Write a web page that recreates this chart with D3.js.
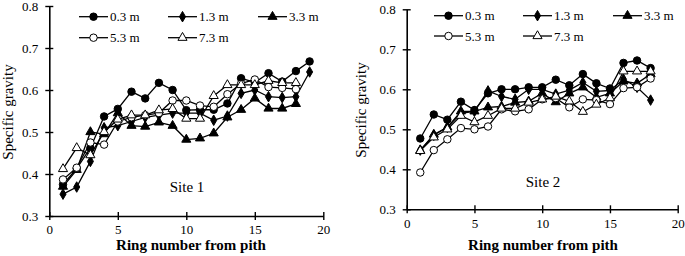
<!DOCTYPE html>
<html><head><meta charset="utf-8">
<script src="https://cdn.jsdelivr.net/npm/d3@7"></script>
<style>
body{margin:0;background:#fff}
svg text{font-family:"Liberation Serif","Times New Roman",serif;fill:#000}
</style>
</head><body>
<svg id="c" width="685" height="256"></svg>
<script>
// ---- data ----
const seriesNames = ["0.3 m","1.3 m","3.3 m","5.3 m","7.3 m"];
const rings = [1,2,3,4,5,6,7,8,9,10,11,12,13,14,15,16,17,18,19];
const xTicks = [0,5,10,15,20];
const yTicks = [0.3,0.4,0.5,0.6,0.7,0.8];

const site1_03 = [0.375,0.413,0.462,0.537,0.555,0.596,0.580,0.617,0.600,0.552,0.553,0.553,0.568,0.628,0.618,0.640,0.620,0.645,0.668];
const site1_13 = [0.352,0.369,0.430,0.510,0.515,0.525,0.535,0.540,0.545,0.545,0.545,0.528,0.538,0.592,0.600,0.584,0.582,0.584,0.643];
const site1_33 = [0.370,0.410,0.500,0.495,0.545,0.515,0.513,0.523,0.515,0.482,0.485,0.497,0.535,0.553,0.580,0.556,0.556,0.567];
const site1_53 = [0.387,0.415,0.475,0.470,0.525,0.535,0.540,0.545,0.575,0.575,0.563,0.560,0.590,0.615,0.625,0.607,0.605,0.602];
const site1_73 = [0.412,0.462,0.445,0.500,0.530,0.540,0.540,0.552,0.555,0.532,0.532,0.586,0.612,0.612,0.612,0.622,0.617,0.617];

const site2_03 = [0.477,0.537,0.524,0.569,0.548,0.590,0.600,0.600,0.605,0.605,0.624,0.610,0.638,0.615,0.602,0.666,0.672,0.653];
const site2_13 = [0.448,0.485,0.505,0.540,0.545,0.596,0.582,0.575,0.600,0.600,0.588,0.598,0.617,0.595,0.597,0.625,0.605,0.573];
const site2_33 = [0.447,0.487,0.505,0.545,0.545,0.555,0.557,0.567,0.570,0.590,0.568,0.590,0.605,0.580,0.590,0.620,0.615,0.638];
const site2_53 = [0.392,0.448,0.475,0.503,0.500,0.507,0.550,0.545,0.550,0.575,0.578,0.555,0.575,0.573,0.563,0.603,0.605,0.627];
const site2_73 = [0.446,0.480,0.500,0.534,0.518,0.534,0.552,0.552,0.567,0.575,0.582,0.570,0.544,0.562,0.578,0.645,0.645,0.645];

const site1 = [site1_03, site1_13, site1_33, site1_53, site1_73];
const site2 = [site2_03, site2_13, site2_33, site2_53, site2_73];

// ---- styles ----
const markers = [
  {type:d3.symbolCircle, size:44, fill:"#000"},
  {type:d3.symbolDiamond, size:32, fill:"#000"},
  {type:d3.symbolTriangle, size:36, fill:"#000"},
  {type:d3.symbolCircle, size:44, fill:"#fff"},
  {type:d3.symbolTriangle, size:36, fill:"#fff"}
];

const svg = d3.select("#c");
svg.append("rect").attr("width",685).attr("height",256).attr("fill","#fff");

function panel(cfg, data){
  const x = d3.scaleLinear().domain([0,20]).range([cfg.x0, cfg.x1]);
  const y = d3.scaleLinear().domain([0.3,0.8]).range([cfg.y0, cfg.y1]);
  const g = svg.append("g");

  // axes
  const ax = g.append("g").attr("transform",`translate(0,${cfg.y0})`)
    .call(d3.axisBottom(x).tickValues(xTicks).tickSize(4).tickSizeOuter(0).tickPadding(5).tickFormat(d3.format("d")));
  ax.selectAll(".tick line").attr("y1",-4);
  const ay = g.append("g").attr("transform",`translate(${cfg.x0},0)`)
    .call(d3.axisLeft(y).tickValues(yTicks).tickSize(4).tickSizeOuter(0).tickPadding(7).tickFormat(d3.format(".1f")));
  ay.selectAll(".tick line").attr("x1",4);
  g.selectAll(".domain").attr("stroke","#000").attr("stroke-width",1.6);
  g.selectAll(".tick line").attr("stroke","#000").attr("stroke-width",1.4);
  g.selectAll(".tick text").attr("font-size",13).attr("font-family","Liberation Serif, serif");

  // titles
  g.append("text").attr("x",cfg.xtX).attr("y",250).attr("text-anchor","middle")
    .attr("font-size",15).attr("font-weight","bold").text("Ring number from pith");
  g.append("text").attr("transform",`translate(${cfg.ytX},${cfg.ytY}) rotate(-90)`)
    .attr("text-anchor","middle").attr("font-size",15).text("Specific gravity");
  g.append("text").attr("x",cfg.siteX).attr("y",cfg.siteY).attr("text-anchor","middle")
    .attr("font-size",15).text(cfg.site);

  // series
  const line = d3.line().x((d,i)=>x(rings[i])).y(d=>y(d));
  data.forEach((vals,k)=>{
    g.append("path").datum(vals).attr("d",line).attr("fill","none")
      .attr("stroke","#000").attr("stroke-width",1.3);
  });
  data.forEach((vals,k)=>{
    const m = markers[k];
    g.selectAll(null).data(vals).enter().append("path")
      .attr("transform",(d,i)=>`translate(${x(rings[i])},${y(d)})`)
      .attr("d",d3.symbol().type(m.type).size(m.size))
      .attr("fill",m.fill).attr("stroke","#000").attr("stroke-width",1);
  });

  // legend
  seriesNames.forEach((name,k)=>{
    const row = k<3 ? 0 : 1, col = k<3 ? k : k-3;
    const lx = cfg.legCols[col], ly = cfg.legRows[row];
    g.append("line").attr("x1",lx).attr("x2",lx+29).attr("y1",ly).attr("y2",ly)
      .attr("stroke","#000").attr("stroke-width",1.3);
    const m = markers[k];
    g.append("path").attr("transform",`translate(${lx+14.5},${ly})`)
      .attr("d",d3.symbol().type(m.type).size(m.size))
      .attr("fill",m.fill).attr("stroke","#000").attr("stroke-width",1);
    g.append("text").attr("x",lx+31).attr("y",ly).attr("dy","0.35em")
      .attr("font-size",13).text(name);
  });
}

panel({x0:49.3,x1:323.3,y0:216,y1:6,xtX:191,ytX:13,ytY:112,siteX:187,siteY:192,site:"Site 1",
       legCols:[79,168,258],legRows:[16.7,37.7]}, site1);
panel({x0:406.7,x1:677.7,y0:209.3,y1:9.3,xtX:543,ytX:366,ytY:110,siteX:543,siteY:187,site:"Site 2",
       legCols:[434,523,613],legRows:[15.7,36]}, site2);
</script>
</body></html>
